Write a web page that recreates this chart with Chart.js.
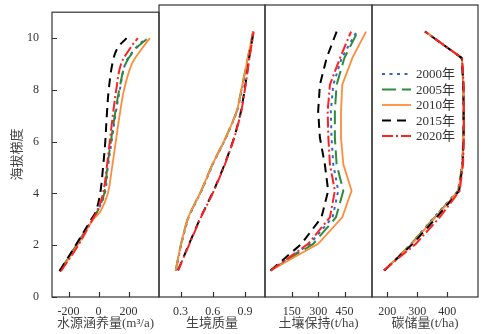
<!DOCTYPE html>
<html>
<head>
<meta charset="utf-8">
<script src="https://cdn.jsdelivr.net/npm/chart.js@4.4.1/dist/chart.umd.min.js"></script>
<style>
    body { margin: 0; background: #fff; }
    #wrap { position: relative; width: 489px; height: 334px; }
    canvas { position: absolute; top: 0; }
</style>
</head>
<body>
<div id="wrap">
    <canvas id="c1" width="161" height="334" style="left:0px"></canvas>
    <canvas id="c2" width="110" height="334" style="left:157px"></canvas>
    <canvas id="c3" width="111" height="334" style="left:263px"></canvas>
    <canvas id="c4" width="110" height="334" style="left:370px"></canvas>
</div>
<script>
// series labels and styles (2000, 2005, 2010, 2015, 2020)
const years = ["2000年", "2005年", "2010年", "2015年", "2020年"];
const colors = ["#3366cc", "#2e8b3c", "#ff8c3a", "#000000", "#ff2222"];
const dashes = [[3, 4.5], [14, 6], [], [9, 6], [11, 3, 2, 3]];

// elevation gradient levels
const levels = [1, 2, 3, 4, 5, 6, 7, 8, 9, 10];
const waterLevels = [1, 2, 3, 3.3, 4, 5, 6, 7, 8, 9, 9.6, 10];

// 水源涵养量 (m3/a), one row per year
const water = [
    [-258, -148, -42, -8, 42, 62, 87, 112, 142, 178, 245, 320],
    [-258, -148, -42, -8, 38, 58, 82, 108, 138, 180, 250, 330],
    [-255, -140, -35, 12, 62, 90, 115, 140, 170, 222, 290, 342],
    [-260, -152, -48, -18, 11, 30, 45, 55, 68, 92, 125, 187],
    [-250, -135, -40, -10, 30, 55, 75, 95, 118, 150, 210, 262]
];

// 生境质量
const habitat = [
    [0.257, 0.308, 0.375, 0.495, 0.600, 0.722, 0.825, 0.880, 0.930, 0.976],
    [0.255, 0.305, 0.372, 0.492, 0.597, 0.720, 0.822, 0.875, 0.925, 0.975],
    [0.255, 0.305, 0.372, 0.492, 0.597, 0.720, 0.822, 0.875, 0.925, 0.975],
    [0.276, 0.380, 0.487, 0.607, 0.710, 0.798, 0.862, 0.903, 0.938, 0.979],
    [0.278, 0.383, 0.490, 0.610, 0.713, 0.800, 0.865, 0.905, 0.940, 0.980]
];

// 土壤保持 (t/ha)
const soil = [
    [30, 253, 382, 414, 386, 376, 372, 386, 434, 519],
    [30, 272, 401, 443, 405, 395, 395, 405, 449, 525],
    [30, 300, 437, 490, 443, 430, 430, 437, 494, 572],
    [30, 205, 319, 357, 338, 310, 300, 310, 348, 405],
    [30, 243, 367, 395, 367, 358, 354, 367, 424, 487]
];

// 碳储量 (t/ha)
const carbon = [
    [190, 280, 356, 436, 450, 454, 455, 454, 449, 326],
    [190, 280, 358, 437, 451, 454, 455, 454, 449, 326],
    [190, 282, 360, 438, 451, 454, 455, 454, 449, 326],
    [190, 285, 365, 440, 452, 455, 455, 454, 449, 326],
    [188, 295, 375, 442, 453, 456, 456, 455, 450, 326]
];

// tick labels
const yTicks = [0, 2, 4, 6, 8, 10];
const waterTicks = [-200, 0, 200];
const habitatTicks = [0.3, 0.6, 0.9];
const soilTicks = [150, 300, 450];
const carbonTicks = [200, 300, 400];

const serif = "'Liberation Serif', 'Noto Sans CJK SC', serif";
const textColor = "#333";

// frame around each panel plus inward tick marks
const framePlugin = {
    id: "frame",
    afterDraw(chart) {
        const { ctx, chartArea: a, scales } = chart;
        ctx.save();
        ctx.strokeStyle = "#333";
        ctx.lineWidth = 1.2;
        ctx.strokeRect(a.left, a.top, a.right - a.left, a.bottom - a.top);
        ctx.beginPath();
        scales.x.ticks.forEach(t => {
            const px = Math.round(scales.x.getPixelForValue(t.value)) + 0.5;
            ctx.moveTo(px, a.bottom);
            ctx.lineTo(px, a.bottom - 5);
        });
        if (scales.y.options.display) {
            scales.y.ticks.forEach(t => {
                const py = Math.round(scales.y.getPixelForValue(t.value)) + 0.5;
                ctx.moveTo(a.left, py);
                ctx.lineTo(a.left + 5, py);
            });
        }
        ctx.stroke();
        ctx.restore();
    }
};

// legend drawn inside the last panel
const legendPlugin = {
    id: "innerLegend",
    afterDraw(chart) {
        const ctx = chart.ctx;
        ctx.save();
        chart.data.datasets.forEach((ds, i) => {
            const y = 74 + i * 15.5;
            ctx.beginPath();
            ctx.strokeStyle = ds.borderColor;
            ctx.lineWidth = ds.borderWidth;
            ctx.setLineDash(ds.borderDash);
            ctx.moveTo(12, y);
            ctx.lineTo(41, y);
            ctx.stroke();
            ctx.setLineDash([]);
            ctx.fillStyle = textColor;
            ctx.font = "13px " + serif;
            ctx.textBaseline = "middle";
            ctx.fillText(ds.label, 46, y + 1);
        });
        ctx.restore();
    }
};

function makePanel(id, values, yLevels, xTicks, min, max, title, tension, first, extra) {
    const datasets = values.map((row, i) => ({
        label: years[i],
        data: row.map((v, j) => ({ x: v, y: yLevels[j] })),
        borderColor: colors[i],
        borderDash: dashes[i],
        borderWidth: i === 2 ? 1.8 : 2,
        pointRadius: 0,
        showLine: true,
        tension: tension,
        order: 5 - i
    }));

    return new Chart(document.getElementById(id).getContext("2d"), {
        type: "scatter",
        data: { datasets },
        plugins: [framePlugin].concat(extra || []),
        options: {
            responsive: false,
            animation: false,
            events: [],
            layout: { padding: { top: 5, bottom: 0, left: first ? 0 : 2, right: 2 } },
            plugins: { legend: { display: false }, tooltip: { enabled: false } },
            scales: {
                x: {
                    type: "linear",
                    min: min,
                    max: max,
                    grid: { display: false },
                    border: { display: false },
                    afterBuildTicks: s => { s.ticks = xTicks.map(v => ({ value: v })); },
                    afterFit: s => { s.height = 37; },
                    ticks: {
                        padding: 0,
                        maxRotation: 0,
                        color: textColor,
                        font: { family: serif, size: 12 },
                        callback: v => String(v)
                    },
                    title: {
                        display: true,
                        text: title,
                        color: "#444",
                        font: { family: serif, size: 13 },
                        padding: { top: 0, bottom: 3 }
                    }
                },
                y: {
                    type: "linear",
                    min: 0,
                    max: 11,
                    display: first,
                    grid: { display: false },
                    border: { display: false },
                    afterBuildTicks: s => { s.ticks = yTicks.map(v => ({ value: v })); },
                    afterFit: s => { s.width = first ? 52 : 0; },
                    ticks: {
                        padding: 5,
                        color: textColor,
                        font: { family: serif, size: 12 },
                        callback: v => String(v)
                    },
                    title: {
                        display: true,
                        text: "海拔梯度",
                        color: "#444",
                        font: { family: serif, size: 13 },
                        padding: { top: 10, bottom: 0 }
                    }
                }
            }
        }
    });
}

makePanel("c1", water, waterLevels, waterTicks, -310, 403, "水源涵养量(m³/a)", 0.35, true);
makePanel("c2", habitat, levels, habitatTicks, 0.10, 1.085, "生境质量", 0.2, false);
makePanel("c3", soil, levels, soilTicks, -2, 606, "土壤保持(t/ha)", 0, false);
makePanel("c4", carbon, levels, carbonTicks, 149, 503, "碳储量(t/ha)", 0, false, [legendPlugin]);
</script>
</body>
</html>
